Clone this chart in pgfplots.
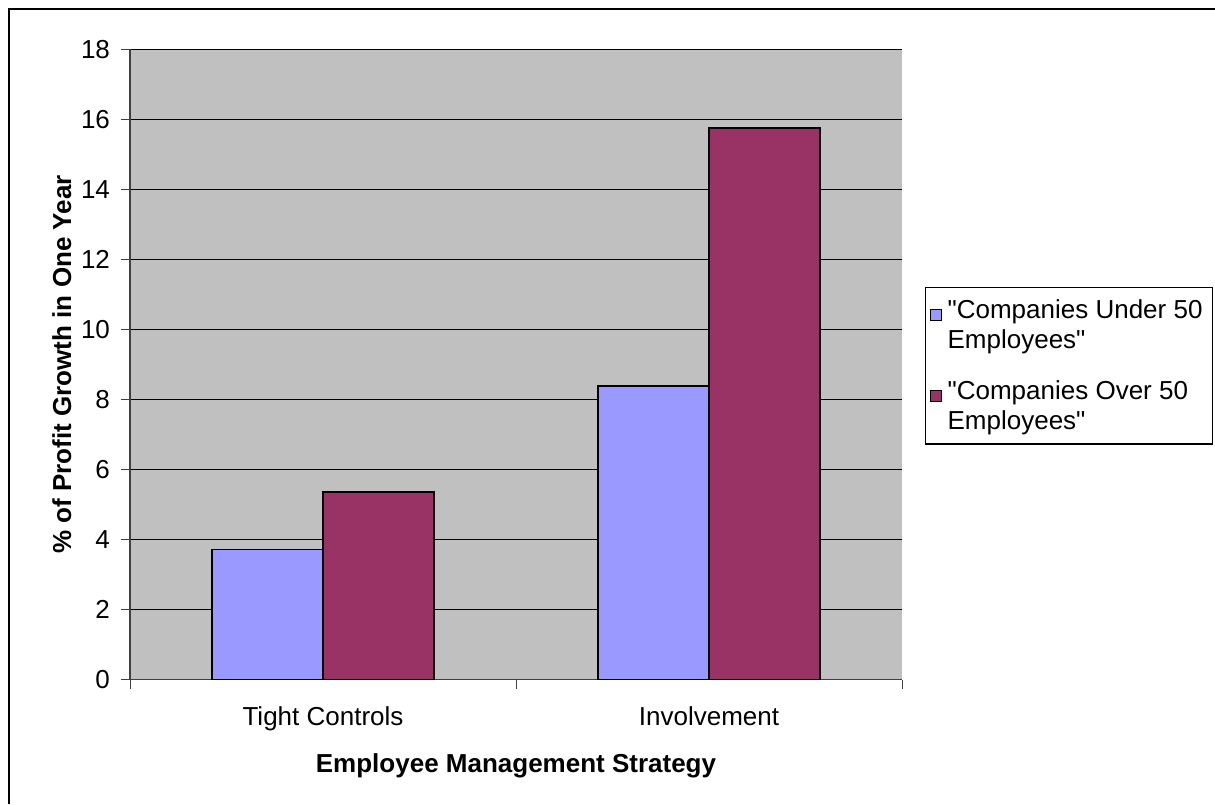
\documentclass[border=0pt]{standalone}
\usepackage{pgfplots}
\pgfplotsset{compat=1.18}
\usepackage{fontspec}
\setmainfont{Liberation Sans}[Ligatures=TeXOff]
\definecolor{barblue}{HTML}{9999FF}
\definecolor{barplum}{HTML}{993366}
\definecolor{plotgray}{HTML}{C0C0C0}
\begin{document}
\begin{tikzpicture}
  % page = 1215 x 804 px, 1px = 0.5pt
  \useasboundingbox (0pt,0pt) rectangle (607.5pt,402pt);
  \draw[line width=1pt] (4.5pt,0pt) -- (4.5pt,397.5pt) -- (607.5pt,397.5pt);
  \begin{axis}[
    at={(65pt,62.25pt)}, anchor=south west,
    scale only axis,
    width=386pt, height=315pt,
    /pgf/number format/assume math mode=true,
    font=\fontsize{13}{15}\selectfont,
    ybar=0pt, bar width=55.5pt,
    xmin=0, xmax=2, ymin=0, ymax=18,
    ytick={0,2,...,18},
    xtick={0,1,2}, xticklabels={},
    extra x ticks={0.5,1.5},
    extra x tick labels={Tight Controls, Involvement},
    extra x tick style={major tick length=0pt, xticklabel style={yshift=-10pt}},
    yticklabel style={xshift=-2pt},
    axis x line*=bottom, axis y line*=left,
    axis line style={black!75, line width=0.6pt},
    tick style={black!75, line width=0.5pt},
    major tick length=4.5pt,
    tick align=outside,
    ymajorgrids, major grid style={black, line width=0.5pt},
    axis background/.style={fill=plotgray},
    xlabel={\textbf{Employee Management Strategy}},
    ylabel={\textbf{\% of Profit Growth in One Year}},
    xlabel style={yshift=0pt},
    ylabel style={yshift=-2pt},
    legend style={at={(1.0298,0.6234)}, anchor=north west,
      draw=black, line width=0.6pt, inner xsep=2pt, inner ysep=3pt,
      nodes={align=left, inner xsep=3pt, inner ysep=3pt},
      row sep=8.5pt,
      font=\fontsize{13}{15}\selectfont},
    legend cell align=left,
    legend image code/.code={%
      \draw[#1, line width=0.5pt] (2pt,2.5pt) rectangle (7.5pt,8pt);},
  ]
    \addplot[fill=barblue, draw=black, line width=0.8pt]
      coordinates {(0.5,3.71) (1.5,8.39)};
    \addplot[fill=barplum, draw=black, line width=0.8pt]
      coordinates {(0.5,5.36) (1.5,15.76)};
    \legend{{"Companies Under 50\\Employees"},
            {"Companies Over 50\\Employees"}}
  \end{axis}
\end{tikzpicture}
\end{document}
